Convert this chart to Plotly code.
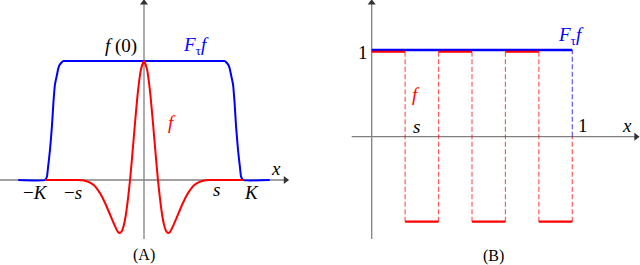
import plotly.graph_objects as go

# ---------------- Panel (A) data (x in units of K, y in units of f(0)) -------------
blue_a_x = [-1.27, -1.0, -0.98, -0.97, -0.95, -0.93, -0.915, -0.90, -0.88, -0.865, -0.85, -0.83, -0.815, -0.79,
            0.79, 0.815, 0.83, 0.85, 0.865, 0.88, 0.90, 0.915, 0.93, 0.95, 0.97, 0.98, 1.0, 1.27]
blue_a_y = [0.0, 0.0, 0.03, 0.10, 0.25, 0.45, 0.65, 0.80, 0.88, 0.94, 0.97, 0.99, 1.0, 1.0,
            1.0, 1.0, 0.99, 0.97, 0.94, 0.88, 0.80, 0.65, 0.45, 0.25, 0.10, 0.03, 0.0, 0.0]

# right half of f (f is even); the left half mirrors it
red_half_x = [0.0, 0.030, 0.061, 0.091, 0.121, 0.141, 0.162, 0.182, 0.202, 0.222, 0.242, 0.263, 0.283,
              0.313, 0.343, 0.384, 0.424, 0.465, 0.505, 0.556, 0.606, 0.667, 1.0]
red_half_y = [1.0, 0.932, 0.745, 0.477, 0.184, 0.0, -0.159, -0.286, -0.375, -0.427, -0.446, -0.437, -0.406,
              -0.35, -0.29, -0.21, -0.14, -0.085, -0.045, -0.018, -0.005, 0.0, 0.0]

# ---------------- Panel (B) data -------------
b_edges = [0.0, 1/6, 2/6, 3/6, 4/6, 5/6, 1.0]
f_vals = [0.98, -0.98, 0.98, -0.98, 0.98, -0.98]
ftau_x = [0.0, 1.0]
ftau_y = [1.0, 1.0]

W, H = 640, 265
RED = "#ff0000"
BLUE = "#0000ff"
AXC = "#808080"
FONT = "Liberation Serif"

red_a_x = [-v for v in red_half_x[::-1]] + red_half_x[1:]
red_a_y = red_half_y[::-1] + red_half_y[1:]

fig = go.Figure()

# Panel A curves
fig.add_trace(go.Scatter(x=blue_a_x, y=blue_a_y, mode="lines", line=dict(color=BLUE, width=2, shape="spline", smoothing=0.4),
                         xaxis="x", yaxis="y", hoverinfo="skip"))
fig.add_trace(go.Scatter(x=red_a_x, y=red_a_y, mode="lines", line=dict(color=RED, width=2, shape="spline", smoothing=0.5),
                         xaxis="x", yaxis="y", hoverinfo="skip"))

# Panel B: dashed verticals (red), built from the data
dx, dy = [], []
for i in range(1, len(b_edges) - 1):
    dx += [b_edges[i], b_edges[i], None]
    dy += [f_vals[i - 1], f_vals[i], None]
dx += [b_edges[-1], b_edges[-1], None]
dy += [f_vals[-1], 0.0, None]
fig.add_trace(go.Scatter(x=dx, y=dy, mode="lines", line=dict(color="rgba(255,0,0,0.65)", width=1.2, dash="5px,2.5px"),
                         xaxis="x2", yaxis="y2", hoverinfo="skip"))
# blue dashed vertical at the end of F_tau f
fig.add_trace(go.Scatter(x=[ftau_x[-1], ftau_x[-1]], y=[0.0, ftau_y[-1]], mode="lines",
                         line=dict(color="rgba(0,0,255,0.65)", width=1.2, dash="5px,2.5px"),
                         xaxis="x2", yaxis="y2", hoverinfo="skip"))
# F_tau f
fig.add_trace(go.Scatter(x=ftau_x, y=ftau_y, mode="lines", line=dict(color=BLUE, width=2.5),
                         xaxis="x2", yaxis="y2", hoverinfo="skip"))
# f horizontal segments
sx, sy = [], []
for i, v in enumerate(f_vals):
    sx += [b_edges[i], b_edges[i + 1], None]
    sy += [v, v, None]
fig.add_trace(go.Scatter(x=sx, y=sy, mode="lines", line=dict(color=RED, width=2.2),
                         xaxis="x2", yaxis="y2", hoverinfo="skip"))

# Arrow heads of the drawn axes
fig.add_trace(go.Scatter(x=[1.43], y=[0], mode="markers", marker=dict(symbol="triangle-right", size=7, color="#333333"),
                         xaxis="x", yaxis="y", hoverinfo="skip"))
fig.add_trace(go.Scatter(x=[0], y=[1.49], mode="markers", marker=dict(symbol="triangle-up", size=7, color="#333333"),
                         xaxis="x", yaxis="y", hoverinfo="skip"))
fig.add_trace(go.Scatter(x=[1.318], y=[0], mode="markers", marker=dict(symbol="triangle-right", size=7, color="#333333"),
                         xaxis="x2", yaxis="y2", hoverinfo="skip"))
fig.add_trace(go.Scatter(x=[0], y=[1.545], mode="markers", marker=dict(symbol="triangle-up", size=7, color="#333333"),
                         xaxis="x2", yaxis="y2", hoverinfo="skip"))

# Axes lines (drawn as shapes, in data coordinates)
shapes = [
    dict(type="line", xref="x", yref="y", x0=-1.4545, x1=1.43, y0=0, y1=0, line=dict(color=AXC, width=1.3), layer="below"),
    dict(type="line", xref="x", yref="y", x0=0, x1=0, y0=-0.496, y1=1.49, line=dict(color=AXC, width=1.3), layer="below"),
    dict(type="line", xref="x2", yref="y2", x0=-0.0997, x1=1.318, y0=0, y1=0, line=dict(color=AXC, width=1.3), layer="below"),
    dict(type="line", xref="x2", yref="y2", x0=0, x1=0, y0=-1.18, y1=1.545, line=dict(color=AXC, width=1.3), layer="below"),
]

def label(text, px, py, color="black", size=19):
    return dict(x=px / W, y=1 - py / H, xref="paper", yref="paper", text=text, showarrow=False,
                xanchor="center", yanchor="middle", font=dict(family=FONT, size=size, color=color))

annotations = [
    # Panel A labels
    label("<i>f</i> (0)", 121, 46),
    label("<i>F</i><sub>τ</sub><i>f</i>", 196, 46, BLUE),
    label("<i>f</i>", 172, 122, RED),
    label("<i>x</i>", 276, 168),
    label("−<i>K</i>", 35, 192),
    label("−<i>s</i>", 73, 192),
    label("<i>s</i>", 216, 189),
    label("<i>K</i>", 251, 192),
    label("(A)", 144, 255, size=16),
    # Panel B labels
    label("1", 363, 53),
    label("<i>F</i><sub>τ</sub><i>f</i>", 571, 36, BLUE),
    label("<i>f</i>", 416, 95, RED),
    label("<i>s</i>", 416, 126),
    label("1", 583, 125),
    label("<i>x</i>", 627, 125),
    label("(B)", 493, 256, size=16),
]

ax_common = dict(visible=False, showgrid=False, zeroline=False, fixedrange=True)
fig.update_layout(
    width=W, height=H, autosize=False,
    margin=dict(l=0, r=0, t=0, b=0),
    paper_bgcolor="white", plot_bgcolor="white",
    showlegend=False,
    xaxis=dict(domain=[0, 300 / W], range=[-1.4545, 1.5758], **ax_common),
    yaxis=dict(domain=[0, 1], range=[-0.7143, 1.5126], **ax_common),
    xaxis2=dict(domain=[340 / W, 1], range=[-0.158, 1.3375], **ax_common),
    yaxis2=dict(domain=[0, 1], range=[-1.480, 1.5767], anchor="x2", **ax_common),
    shapes=shapes,
    annotations=annotations,
)

fig.write_html("out.html", config={"displayModeBar": False},
               post_script="document.body.style.margin='0';document.body.style.overflow='hidden';")
